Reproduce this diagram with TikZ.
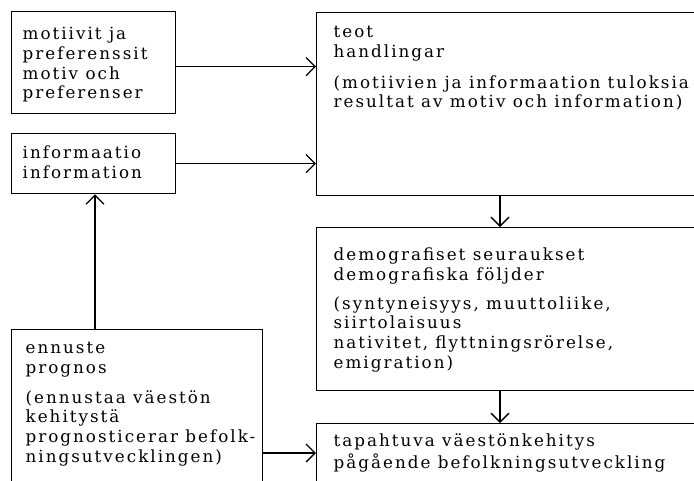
\documentclass[tikz,border=0pt]{standalone}
\usepackage{fontspec}
\newfontfamily\boxfont{DejaVu Serif}[LetterSpace=12]
\usetikzlibrary{arrows.meta,positioning}

\begin{document}
\begin{tikzpicture}[x=1pt,y=-1pt,line width=1.3pt,
  box/.style={draw,rectangle,anchor=north west,inner sep=0pt},
  txt/.style={anchor=north west,inner sep=0pt,align=left,
    font=\boxfont\fontsize{16.75}{19.8}\selectfont},
  >={Straight Barb[length=9pt,width=18pt]}]
\useasboundingbox (0,0) rectangle (694,480);
\clip (0,0) rectangle (694,480);

% boxes
\node[box,minimum width=164pt,minimum height=102pt] (motiv) at (11,11) {};
\node[box,minimum width=164pt,minimum height=60pt] (info) at (11,133) {};
\node[box,minimum width=420pt,minimum height=183pt] (teot) at (316,12) {};
\node[box,minimum width=420pt,minimum height=163pt] (demog) at (316,227) {};
\node[box,minimum width=420pt,minimum height=100pt] (tapaht) at (316,423) {};
\node[box,minimum width=251pt,minimum height=200pt] (ennus) at (11,329) {};

% texts
\node[txt] (motivtxt) at ([shift={(11,14)}]motiv.north west)
  {\strut motiivit ja\\preferenssit\\motiv och\\preferenser};
\node[txt] (infotxt) at ([shift={(11,11)}]info.north west)
  {\strut informaatio\\information};
\node[txt] (teottxt) at ([shift={(17,11)}]teot.north west)
  {\strut teot\\handlingar\\[11pt]
   (motiivien ja informaation tuloksia\\
   resultat av motiv och information)};
\node[txt] (demogtxt) at ([shift={(17,19)}]demog.north west)
  {\strut demografiset seuraukset\\demografiska följder\\[9pt]
   (syntyneisyys, muuttoliike,\\siirtolaisuus\\
   nativitet, flyttningsrörelse,\\emigration)};
\node[txt] (tapahttxt) at ([shift={(17,9)}]tapaht.north west)
  {\strut tapahtuva väestönkehitys\\pågående befolkningsutveckling};
\node[txt] (ennustxt) at ([shift={(14,10)}]ennus.north west)
  {\strut ennuste\\prognos\\[10pt]
   (ennustaa väestön\\kehitystä\\
   prognosticerar befolk-\\ningsutvecklingen)};

% connectors
\coordinate (colR) at (500,0);
\coordinate (colL) at (95,0);
\coordinate (rowP) at (0,453);
\path[->]
(motiv.east) ++(0,4) coordinate (motivout)
(motivout) edge (motivout -| teot.west)
(info.east) edge (info.east -| teot.west)
(teot.south -| colR) edge (demog.north -| colR)
(demog.south -| colR) edge (tapaht.north -| colR)
(ennus.north -| colL) edge (info.south -| colL)
(ennus.east |- rowP) edge (tapaht.west |- rowP)
;
\end{tikzpicture}
\end{document}
